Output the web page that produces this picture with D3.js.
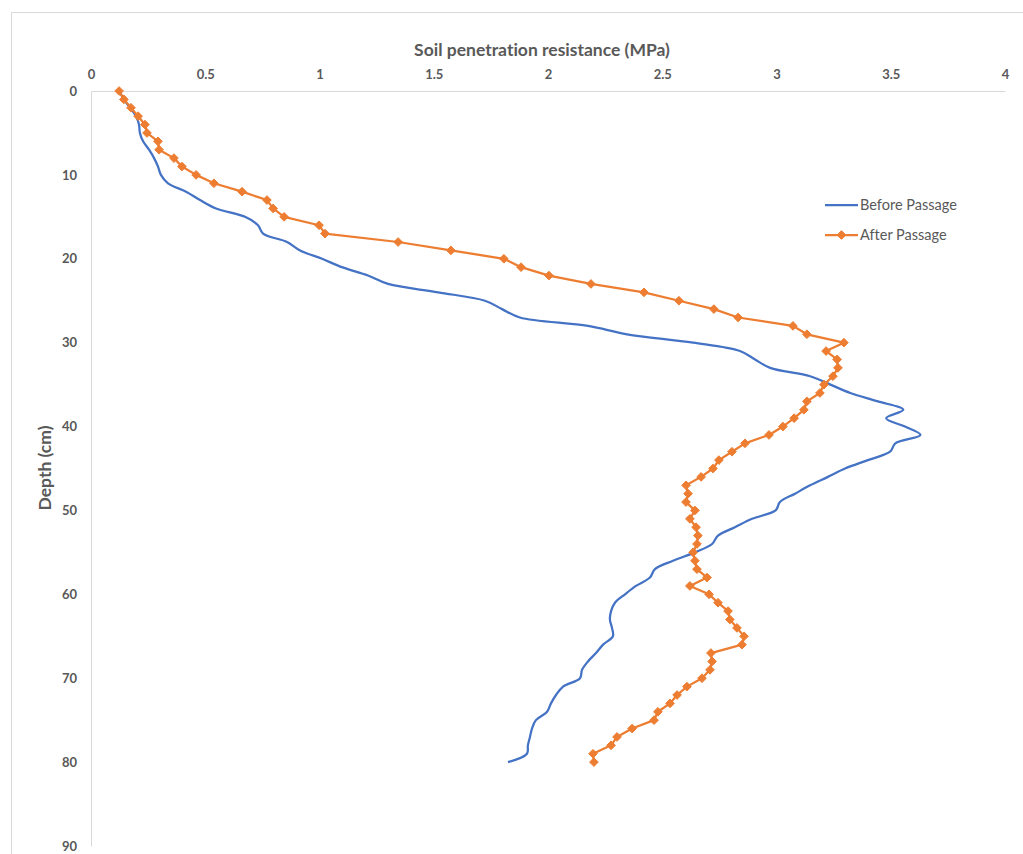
<!DOCTYPE html>
<html>
<head>
<meta charset="utf-8">
<script src="https://cdn.jsdelivr.net/npm/d3@7"></script>
<style>
  body { margin: 0; background: #fff; }
  text { font-family: Lato, "Open Sans", sans-serif; fill: #595959; font-variant-ligatures: none; }
</style>
</head>
<body>
<svg id="chart"></svg>
<script>
// depth in cm (one reading per cm)
let depths = d3.range(0, 81);
// before passage, MPa
let before = [
  0.123, 0.144, 0.171, 0.197, 0.21, 0.214, 0.228, 0.254, 0.276, 0.293,
  0.306, 0.337, 0.416, 0.477, 0.547, 0.674, 0.731, 0.753, 0.858, 0.915,
  1.011, 1.098, 1.212, 1.3, 1.519, 1.724, 1.799, 1.877, 2.175, 2.346,
  2.635, 2.84, 2.906, 2.972, 3.147, 3.236, 3.323, 3.444, 3.555, 3.48,
  3.562, 3.63, 3.52, 3.497, 3.4, 3.3, 3.225, 3.147, 3.081, 3.015,
  2.996, 2.893, 2.818, 2.744, 2.718, 2.643, 2.547, 2.468, 2.446, 2.385,
  2.337, 2.293, 2.276, 2.271, 2.28, 2.284, 2.241, 2.21, 2.175, 2.149,
  2.14, 2.066, 2.035, 2.013, 1.996, 1.947, 1.93, 1.921, 1.912, 1.908,
  1.825
];
// after passage, MPa
let after = [
  0.123, 0.144, 0.175, 0.206, 0.236, 0.245, 0.293, 0.298, 0.363, 0.398,
  0.46, 0.538, 0.661, 0.77, 0.797, 0.845, 0.998, 1.024, 1.344, 1.575,
  1.807, 1.882, 2.004, 2.188, 2.42, 2.573, 2.726, 2.832, 3.072, 3.133,
  3.295, 3.217, 3.265, 3.269, 3.247, 3.208, 3.19, 3.133, 3.12, 3.077,
  3.028, 2.967, 2.862, 2.805, 2.748, 2.722, 2.67, 2.604, 2.613, 2.604,
  2.643, 2.621, 2.648, 2.656, 2.652, 2.635, 2.643, 2.652, 2.696, 2.621,
  2.705, 2.744, 2.788, 2.796, 2.827, 2.858, 2.849, 2.713, 2.718, 2.709,
  2.674, 2.608, 2.565, 2.534, 2.481, 2.464, 2.368, 2.302, 2.276, 2.197,
  2.201
];
let xTicks = [0, 0.5, 1, 1.5, 2, 2.5, 3, 3.5, 4];
let yTicks = [0, 10, 20, 30, 40, 50, 60, 70, 80, 90];
let seriesNames = ["Before Passage", "After Passage"];
let colors = ["#4472C4", "#ED7D31"];

let width = 1023, height = 854;
let svg = d3.select("#chart").attr("width", width).attr("height", height);

// chart frame
svg.append("rect")
  .attr("x", 11.5).attr("y", 12.5)
  .attr("width", 1040).attr("height", 900)
  .attr("fill", "none").attr("stroke", "#D9D9D9");

let x = d3.scaleLinear().domain([0, 4]).range([91, 1005]);
let y = d3.scaleLinear().domain([0, 90]).range([91, 846]);

// x axis on top
let xAxis = svg.append("g")
  .attr("transform", "translate(0,91)")
  .call(d3.axisTop(x).tickValues(xTicks).tickSize(0).tickPadding(12).tickFormat(d3.format("")));
xAxis.select(".domain").attr("stroke", "#D9D9D9").attr("stroke-width", 1);
xAxis.selectAll("text").attr("font-size", "13px").attr("font-weight", "bold").attr("fill", "#595959");

let yAxis = svg.append("g")
  .attr("transform", "translate(91,0)")
  .call(d3.axisLeft(y).tickValues(yTicks).tickSize(0).tickPadding(14));
yAxis.select(".domain").attr("stroke", "#D9D9D9").attr("stroke-width", 1);
yAxis.selectAll("text").attr("font-size", "13px").attr("font-weight", "bold").attr("fill", "#595959");

// axis titles
svg.append("text")
  .attr("x", 542).attr("y", 56)
  .attr("text-anchor", "middle")
  .attr("font-size", "17.5px").attr("font-weight", "bold")
  .text("Soil penetration resistance (MPa)");

svg.append("text")
  .attr("transform", "translate(51,468) rotate(-90)")
  .attr("text-anchor", "middle")
  .attr("font-size", "17.5px").attr("font-weight", "bold")
  .text("Depth (cm)");

// before: smoothed line
let lineBefore = d3.line()
  .x((d, i) => x(before[i]))
  .y((d) => y(d))
  .curve(d3.curveCatmullRom.alpha(0.5));

svg.append("path")
  .datum(depths)
  .attr("fill", "none")
  .attr("stroke", colors[0])
  .attr("stroke-width", 2.25)
  .attr("stroke-linejoin", "round")
  .attr("d", lineBefore);

// after: straight segments with diamond markers
let lineAfter = d3.line()
  .x((d, i) => x(after[i]))
  .y((d) => y(d));

svg.append("path")
  .datum(depths)
  .attr("fill", "none")
  .attr("stroke", colors[1])
  .attr("stroke-width", 2.25)
  .attr("stroke-linejoin", "round")
  .attr("d", lineAfter);

let diamond = d3.symbol().type(d3.symbolDiamond2).size(48);
svg.append("g")
  .selectAll("path")
  .data(depths)
  .join("path")
  .attr("transform", (d, i) => "translate(" + x(after[i]) + "," + y(d) + ")")
  .attr("d", diamond)
  .attr("fill", colors[1])
  .attr("stroke", colors[1])
  .attr("stroke-width", 1);

// legend
let legend = svg.append("g").attr("transform", "translate(825,205)");
seriesNames.forEach((name, i) => {
  let g = legend.append("g").attr("transform", "translate(0," + i * 30 + ")");
  g.append("line")
    .attr("x1", 0).attr("x2", 33)
    .attr("stroke", colors[i]).attr("stroke-width", 2.25);
  if (i === 1) {
    g.append("path")
      .attr("transform", "translate(16.5,0)")
      .attr("d", diamond)
      .attr("fill", colors[i]).attr("stroke", colors[i]);
  }
  g.append("text")
    .attr("x", 35).attr("y", 5)
    .attr("font-size", "14.5px")
    .text(name);
});
</script>
</body>
</html>
